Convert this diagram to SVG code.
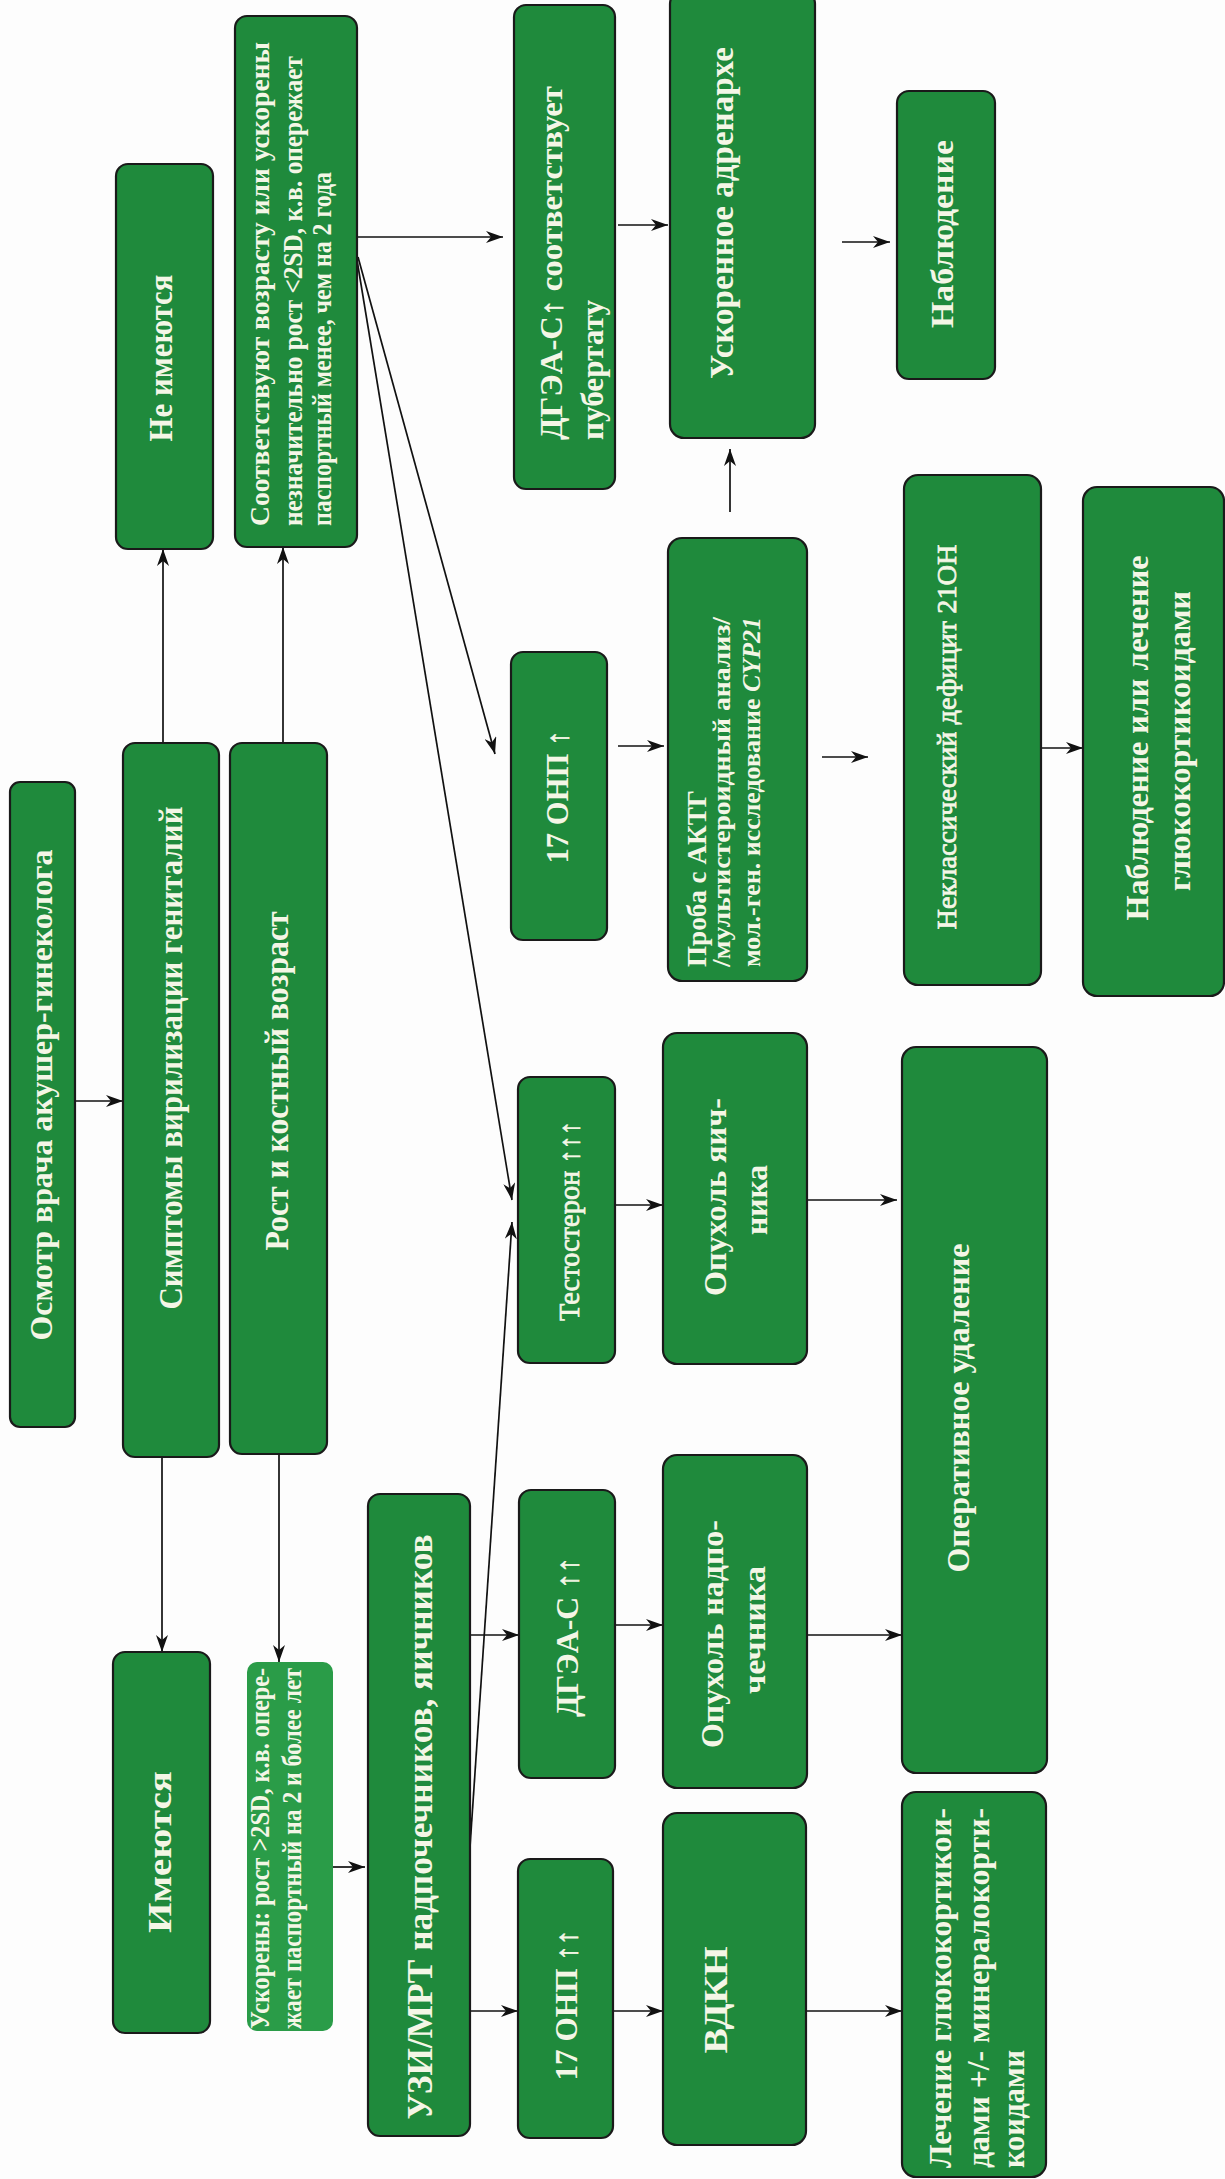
<svg xmlns="http://www.w3.org/2000/svg" width="1225" height="2179" viewBox="0 0 1225 2179">
<defs>
<marker id="ah" markerUnits="userSpaceOnUse" markerWidth="18" markerHeight="12" refX="17" refY="6" orient="auto">
<path d="M0,0 L17,6 L0,12 L5,6 z" fill="#111"/>
</marker>
<style>
.n{fill:#1f8a3c;stroke:#1a1a1a;stroke-width:2.2}
.l{fill:#2a9c48;stroke:none}
.t{font-family:"Liberation Serif","Times New Roman",serif;font-weight:bold;fill:#f4f6e6;dominant-baseline:central}
.r{font-weight:normal;stroke:#f4f6e6;stroke-width:0.7}
.c{text-anchor:middle}
.s{text-anchor:start}
.e{stroke:#111;stroke-width:1.7;fill:none;marker-end:url(#ah)}
</style>
</defs>
<rect width="1225" height="2179" fill="#fdfdfd"/>

<g id="edges">
<line class="e" x1="75" y1="1101" x2="123" y2="1101"/>
<line class="e" x1="163" y1="743" x2="163" y2="549"/>
<line class="e" x1="162" y1="1457" x2="162" y2="1652"/>
<line class="e" x1="283" y1="743" x2="283" y2="547"/>
<line class="e" x1="279" y1="1454" x2="279" y2="1662"/>
<line class="e" x1="333" y1="1867" x2="365" y2="1867"/>
<line class="e" x1="357" y1="237" x2="503" y2="237"/>
<line class="e" x1="358" y1="257" x2="495" y2="754"/>
<line class="e" x1="357" y1="260" x2="512" y2="1200"/>
<line class="e" x1="470" y1="1847" x2="512" y2="1222"/>
<line class="e" x1="470" y1="1635" x2="519" y2="1635"/>
<line class="e" x1="470" y1="2011" x2="518" y2="2011"/>
<line class="e" x1="615" y1="1625" x2="663" y2="1625"/>
<line class="e" x1="613" y1="2011" x2="663" y2="2011"/>
<line class="e" x1="807" y1="1635" x2="902" y2="1635"/>
<line class="e" x1="806" y1="2011" x2="902" y2="2011"/>
<line class="e" x1="615" y1="1205" x2="663" y2="1205"/>
<line class="e" x1="807" y1="1200" x2="897" y2="1200"/>
<line class="e" x1="618" y1="746" x2="664" y2="746"/>
<line class="e" x1="822" y1="757" x2="868" y2="757"/>
<line class="e" x1="1040" y1="748" x2="1083" y2="748"/>
<line class="e" x1="618" y1="225" x2="668" y2="225"/>
<line class="e" x1="730" y1="512" x2="730" y2="449"/>
<line class="e" x1="842" y1="242" x2="890" y2="242"/>
</g>

<g id="n-osmotr">
<rect class="n" x="10" y="782" width="65" height="645" rx="10"/>
<text class="t c" font-size="32" textLength="491" lengthAdjust="spacingAndGlyphs" transform="translate(41,1095) rotate(-90)">Осмотр врача акушер-гинеколога</text>
</g>
<g id="n-symptoms">
<rect class="n" x="123" y="743" width="96" height="714" rx="12"/>
<text class="t c" font-size="33" textLength="503" lengthAdjust="spacingAndGlyphs" transform="translate(171,1058) rotate(-90)">Симптомы вирилизации гениталий</text>
</g>
<g id="n-rost">
<rect class="n" x="230" y="743" width="97" height="711" rx="12"/>
<text class="t c" font-size="33" textLength="339" lengthAdjust="spacingAndGlyphs" transform="translate(277,1081) rotate(-90)">Рост и костный возраст</text>
</g>
<g id="n-ne-imeyutsya">
<rect class="n" x="116" y="164" width="97" height="385" rx="12"/>
<text class="t c" font-size="33" textLength="167" lengthAdjust="spacingAndGlyphs" transform="translate(161,358) rotate(-90)">Не имеются</text>
</g>
<g id="n-sootv">
<rect class="n" x="235" y="16" width="122" height="531" rx="12"/>
<text class="t s" font-size="27" textLength="484" lengthAdjust="spacingAndGlyphs" transform="translate(260,526) rotate(-90)">Соответствуют возрасту или ускорены</text>
<text class="t s" font-size="27" textLength="470" lengthAdjust="spacingAndGlyphs" transform="translate(293,526) rotate(-90)">незначительно рост &lt;2SD, к.в. опережает</text>
<text class="t s" font-size="27" textLength="354" lengthAdjust="spacingAndGlyphs" transform="translate(322,526) rotate(-90)">паспортный менее, чем на 2 года</text>
</g>
<g id="n-imeyutsya">
<rect class="n" x="113" y="1652" width="97" height="381" rx="12"/>
<text class="t c" font-size="33" textLength="162" lengthAdjust="spacingAndGlyphs" transform="translate(160,1852) rotate(-90)">Имеются</text>
</g>
<g id="n-uskoreny">
<rect class="l" x="247" y="1662" width="86" height="369" rx="10"/>
<text class="t s" font-size="27" textLength="361" lengthAdjust="spacingAndGlyphs" transform="translate(260,2029) rotate(-90)">Ускорены: рост &gt;2SD, к.в. опере-</text>
<text class="t s" font-size="27" textLength="361" lengthAdjust="spacingAndGlyphs" transform="translate(292,2029) rotate(-90)">жает паспортный на 2 и более лет</text>
</g>
<g id="n-uzi">
<rect class="n" x="368" y="1494" width="102" height="642" rx="12"/>
<text class="t c" font-size="35" textLength="585" lengthAdjust="spacingAndGlyphs" transform="translate(420,1827) rotate(-90)">УЗИ/МРТ надпочечников, яичников</text>
</g>
<g id="n-dgea2">
<rect class="n" x="519" y="1490" width="96" height="288" rx="12"/>
<text class="t c" font-size="31" textLength="160" lengthAdjust="spacingAndGlyphs" transform="translate(567,1637) rotate(-90)">ДГЭА-С <tspan class="r">↑↑</tspan></text>
</g>
<g id="n-17onp2">
<rect class="n" x="518" y="1859" width="95" height="279" rx="12"/>
<text class="t c" font-size="31" textLength="151" lengthAdjust="spacingAndGlyphs" transform="translate(566,2005) rotate(-90)">17 ОНП <tspan class="r">↑↑</tspan></text>
</g>
<g id="n-opuhol-nadp">
<rect class="n" x="663" y="1455" width="144" height="333" rx="14"/>
<text class="t c" font-size="31" textLength="228" lengthAdjust="spacingAndGlyphs" transform="translate(712,1634) rotate(-90)">Опухоль надпо-</text>
<text class="t c" font-size="31" textLength="128" lengthAdjust="spacingAndGlyphs" transform="translate(754,1630) rotate(-90)">чечника</text>
</g>
<g id="n-vdkn">
<rect class="n" x="663" y="1813" width="143" height="332" rx="14"/>
<text class="t c" font-size="33" textLength="107" lengthAdjust="spacingAndGlyphs" transform="translate(716,2000) rotate(-90)">ВДКН</text>
</g>
<g id="n-testosteron">
<rect class="n" x="518" y="1077" width="97" height="286" rx="12"/>
<text class="t c r" font-size="29" textLength="200" lengthAdjust="spacingAndGlyphs" transform="translate(569,1221) rotate(-90)">Тестостерон ↑↑↑</text>
</g>
<g id="n-opuhol-yaich">
<rect class="n" x="663" y="1033" width="144" height="331" rx="14"/>
<text class="t c" font-size="31" textLength="198" lengthAdjust="spacingAndGlyphs" transform="translate(715,1197) rotate(-90)">Опухоль яич-</text>
<text class="t c" font-size="31" textLength="70" lengthAdjust="spacingAndGlyphs" transform="translate(756,1200) rotate(-90)">ника</text>
</g>
<g id="n-17onp1">
<rect class="n" x="511" y="652" width="96" height="288" rx="12"/>
<text class="t c" font-size="31" textLength="133" lengthAdjust="spacingAndGlyphs" transform="translate(557,797) rotate(-90)">17 ОНП <tspan class="r">↑</tspan></text>
</g>
<g id="n-proba">
<rect class="n" x="668" y="538" width="139" height="443" rx="14"/>
<text class="t s" font-size="28" textLength="177" lengthAdjust="spacingAndGlyphs" transform="translate(696,967) rotate(-90)">Проба с АКТГ</text>
<text class="t s" font-size="26" textLength="350" lengthAdjust="spacingAndGlyphs" transform="translate(721,967) rotate(-90)">/мультистероидный анализ/</text>
<text class="t s" font-size="26" textLength="350" lengthAdjust="spacingAndGlyphs" transform="translate(751,967) rotate(-90)">мол.-ген. исследование <tspan font-style="italic">CYP21</tspan></text>
</g>
<g id="n-dgea1">
<rect class="n" x="514" y="5" width="101" height="484" rx="12"/>
<text class="t s" font-size="31" textLength="354" lengthAdjust="spacingAndGlyphs" transform="translate(551,440) rotate(-90)">ДГЭА-С<tspan class="r">↑</tspan> соответствует</text>
<text class="t s" font-size="31" textLength="140" lengthAdjust="spacingAndGlyphs" transform="translate(592,440) rotate(-90)">пубертату</text>
</g>
<g id="n-adrenarhe">
<rect class="n" x="670" y="-10" width="145" height="448" rx="14"/>
<text class="t c" font-size="33" textLength="332" lengthAdjust="spacingAndGlyphs" transform="translate(722,213) rotate(-90)">Ускоренное адренархе</text>
</g>
<g id="n-nabl">
<rect class="n" x="897" y="91" width="98" height="288" rx="12"/>
<text class="t c" font-size="31" textLength="188" lengthAdjust="spacingAndGlyphs" transform="translate(942,234) rotate(-90)">Наблюдение</text>
</g>
<g id="n-neklass">
<rect class="n" x="904" y="475" width="137" height="510" rx="14"/>
<text class="t c r" font-size="28" textLength="385" lengthAdjust="spacingAndGlyphs" transform="translate(946,737) rotate(-90)">Неклассический дефицит 21ОН</text>
</g>
<g id="n-nabl-lech">
<rect class="n" x="1083" y="487" width="141" height="509" rx="14"/>
<text class="t c" font-size="31" textLength="365" lengthAdjust="spacingAndGlyphs" transform="translate(1137,738) rotate(-90)">Наблюдение или лечение</text>
<text class="t c" font-size="31" textLength="300" lengthAdjust="spacingAndGlyphs" transform="translate(1179,741) rotate(-90)">глюкокортикоидами</text>
</g>
<g id="n-operativ">
<rect class="n" x="902" y="1047" width="145" height="726" rx="14"/>
<text class="t c" font-size="31" textLength="329" lengthAdjust="spacingAndGlyphs" transform="translate(958,1408) rotate(-90)">Оперативное удаление</text>
</g>
<g id="n-lechenie">
<rect class="n" x="902" y="1792" width="144" height="385" rx="14"/>
<text class="t s" font-size="31" textLength="360" lengthAdjust="spacingAndGlyphs" transform="translate(940,2168) rotate(-90)">Лечение глюкокортикои-</text>
<text class="t s" font-size="31" textLength="360" lengthAdjust="spacingAndGlyphs" transform="translate(978,2168) rotate(-90)">дами +/- минералокорти-</text>
<text class="t s" font-size="31" textLength="118" lengthAdjust="spacingAndGlyphs" transform="translate(1013,2168) rotate(-90)">коидами</text>
</g>
</svg>
